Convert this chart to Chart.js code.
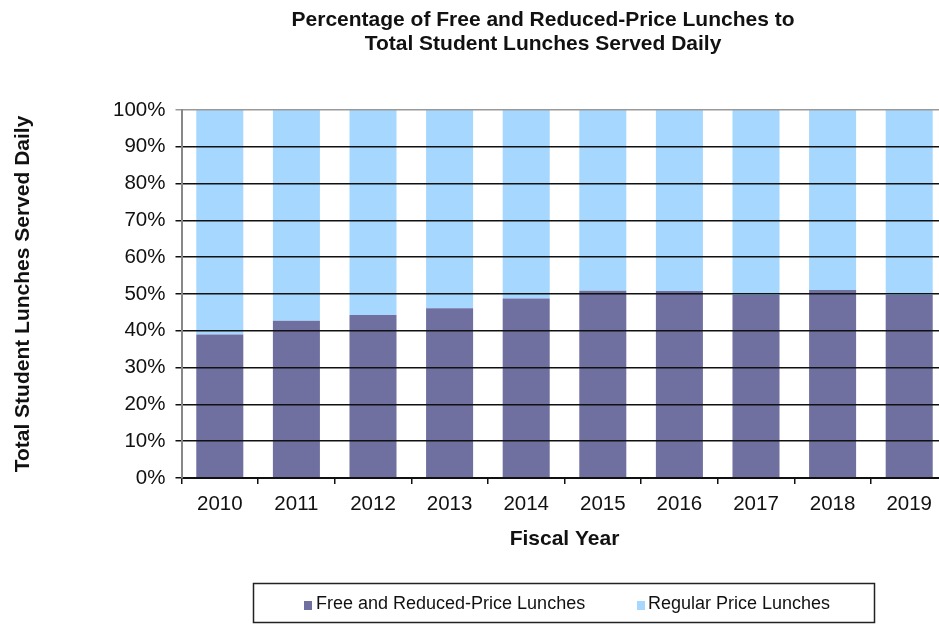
<!DOCTYPE html>
<html><head><meta charset="utf-8">
<script src="https://cdn.jsdelivr.net/npm/chart.js@4.4.1/dist/chart.umd.min.js"></script>
<style>html,body{margin:0;padding:0;background:#fff;overflow:hidden;width:939px;height:624px}canvas{display:block}</style>
</head><body>
<canvas id="c" width="948" height="624"></canvas>
<script>
const categories = ['2010','2011','2012','2013','2014','2015','2016','2017','2018','2019'];
const freeReduced = [39.0, 42.7, 44.3, 46.1, 48.8, 50.9, 50.8, 49.7, 51.1, 49.7];
const regularPrice = [61.0, 57.3, 55.7, 53.9, 51.2, 49.1, 49.2, 50.3, 48.9, 50.3];
const yTickLabels = ['0%','10%','20%','30%','40%','50%','60%','70%','80%','90%','100%'];
const seriesNames = ['Free and Reduced-Price Lunches', 'Regular Price Lunches'];
const titleLines = ['Percentage of Free and Reduced-Price Lunches to', 'Total Student Lunches Served Daily'];
const xTitle = 'Fiscal Year';
const yTitle = 'Total Student Lunches Served Daily';

const FAM = '"Liberation Sans", Arial, sans-serif';
const TXT = '#111';

const overlay = {
  id: 'overlay',
  afterDraw(chart) {
    const ctx = chart.ctx;
    ctx.save();
    ctx.fillStyle = TXT;
    ctx.font = 'bold 21px ' + FAM;
    ctx.textAlign = 'center';
    ctx.textBaseline = 'alphabetic';
    ctx.fillText(titleLines[0], 543, 26);
    ctx.fillText(titleLines[1], 543, 50);
    ctx.strokeStyle = '#222';
    ctx.lineWidth = 1.5;
    ctx.strokeRect(253.5, 583.5, 621, 39);
    const pos = [{m: 304, t: 316}, {m: 637, t: 648}];
    chart.data.datasets.forEach((ds, i) => {
      ctx.fillStyle = ds.backgroundColor;
      ctx.fillRect(pos[i].m, 601, 8, 9);
      ctx.fillStyle = TXT;
      ctx.font = '18px ' + FAM;
      ctx.textAlign = 'left';
      ctx.fillText(ds.label, pos[i].t, 609);
    });
    ctx.restore();
  }
};

new Chart(document.getElementById('c'), {
  type: 'bar',
  data: {
    labels: categories,
    datasets: [
      {label: seriesNames[0], data: freeReduced, backgroundColor: '#6f6fa0', borderWidth: 0, barPercentage: 0.614, categoryPercentage: 1},
      {label: seriesNames[1], data: regularPrice, backgroundColor: '#a6d8ff', borderWidth: 0, barPercentage: 0.614, categoryPercentage: 1}
    ]
  },
  options: {
    responsive: false,
    animation: false,
    layout: {padding: {top: 110, left: 11, right: 0.5, bottom: 66}},
    plugins: {legend: {display: false}, title: {display: false}, tooltip: {enabled: false}},
    scales: {
      x: {
        stacked: true,
        offset: true,
        grid: {offset: true, drawOnChartArea: false, drawTicks: true, tickLength: 6, color: '#111', lineWidth: 1.5},
        border: {display: true, color: '#111', width: 2, z: 1},
        ticks: {color: TXT, font: {family: FAM, size: 20.5}, padding: 8, maxRotation: 0},
        title: {display: true, text: xTitle, color: TXT, font: {family: FAM, size: 21, weight: 'bold'}, padding: {top: 0, bottom: 6}},
        afterFit(s) { s.height = 80; }
      },
      y: {
        stacked: true,
        min: 0, max: 100,
        ticks: {stepSize: 10, color: TXT, font: {family: FAM, size: 20.5}, padding: 10, callback: (v, i) => yTickLabels[i]},
        grid: {z: 1, tickLength: 6, drawTicks: true, lineWidth: 1.5, color: c => (c.tick && c.tick.value === 100) ? '#999' : '#111'},
        border: {display: true, color: '#888', width: 2, z: 1},
        title: {display: true, text: yTitle, color: TXT, font: {family: FAM, size: 21, weight: 'bold'}, padding: {top: 0, bottom: 0}},
        afterFit(s) { s.width = 170.5; }
      }
    }
  },
  plugins: [overlay]
});
</script>
</body></html>
